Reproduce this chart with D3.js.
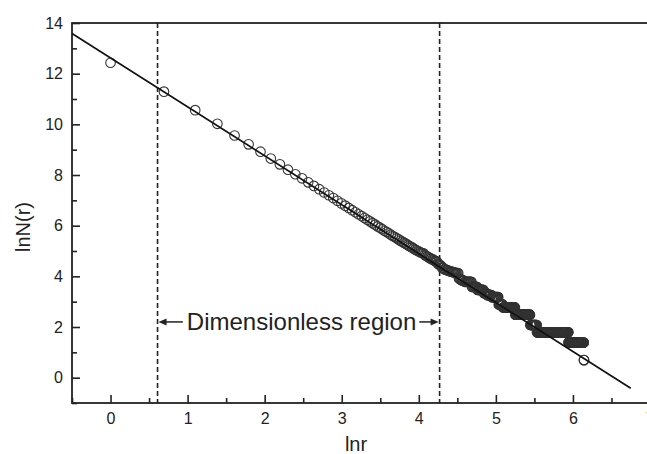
<!DOCTYPE html>
<html>
<head>
<meta charset="utf-8">
<script src="https://cdn.jsdelivr.net/npm/d3@7"></script>
<style>
  html, body { margin: 0; padding: 0; background: #fff; }
  svg { display: block; }
  text { font-family: "Liberation Sans", Arial, sans-serif; fill: #222; }
</style>
</head>
<body>
<svg id="chart" width="647" height="454"></svg>
<script>
// ---- data ----
// lnN(r) for r = 1 .. 73 (one point per integer radius)
const lnNHead = [12.43, 11.29, 10.56, 10.02, 9.56, 9.21, 8.92, 8.65, 8.42, 8.21,
  8.03, 7.87, 7.71, 7.57, 7.44, 7.31, 7.20, 7.09, 6.98, 6.88,
  6.79, 6.70, 6.61, 6.53, 6.45, 6.38, 6.30, 6.23, 6.17, 6.10,
  6.04, 5.97, 5.92, 5.86, 5.80, 5.75, 5.70, 5.64, 5.59, 5.55,
  5.50, 5.46, 5.41, 5.37, 5.33, 5.29, 5.25, 5.21, 5.17, 5.14,
  5.10, 5.06, 5.03, 5.00, 4.97, 4.94, 4.92, 4.91, 4.84, 4.81,
  4.78, 4.75, 4.72, 4.70, 4.67, 4.65, 4.62, 4.60, 4.58, 4.50,
  4.47, 4.44, 4.41];
// tail (r = 74 ..): count N(r) held constant up to the given last radius
const tailCounts   = [76, 72, 70, 68, 66, 64, 62, 50, 48, 46, 44, 36, 32, 28, 26, 24, 18, 16, 12, 8, 6, 4, 2];
const tailRunEnds  = [75, 77, 79, 81, 84, 87, 91, 93, 95, 98, 108, 116, 126, 132, 140, 153, 162, 190, 231, 252, 380, 464, 466];
// fitted line lnN = intercept + slope * lnr, drawn over this lnr range
const fitIntercept = 12.62;
const fitSlope = -1.931;
const fitRange = [-0.5, 6.75];
// scaling-region bounds (dashed lines) and label
const regionBounds = [0.61, 4.27];
const regionLabel = "Dimensionless region";
const regionLabelY = 2.2;
// axes
const xTicks = [0, 1, 2, 3, 4, 5, 6, 7];
const xMinorTicks = [-0.5, 0.5, 1.5, 2.5, 3.5, 4.5, 5.5, 6.5];
const yTicks = [0, 2, 4, 6, 8, 10, 12, 14];
const yMinorTicks = [-1, 1, 3, 5, 7, 9, 11, 13];
const xTitle = "lnr";
const yTitle = "lnN(r)";

// ---- build points ----
const points = [];
lnNHead.forEach((v, i) => points.push({ x: Math.log(i + 1), y: v }));
let rr = lnNHead.length + 1;
tailCounts.forEach((n, k) => {
  for (; rr <= tailRunEnds[k]; rr++) points.push({ x: Math.log(rr), y: Math.log(n) });
});

// ---- layout ----
const svg = d3.select("#chart");
const L = 72, R = 650, T = 23, B = 403;
const x = d3.scaleLinear().domain([-0.5, 7]).range([L, R]);
const y = d3.scaleLinear().domain([-1, 14]).range([B, T]);

svg.append("rect").attr("width", 647).attr("height", 454).attr("fill", "#fff");

// axes (ticks inward)
const gx = svg.append("g").attr("transform", `translate(0,${B})`);
gx.call(d3.axisBottom(x).tickValues(xTicks).tickSize(-8).tickSizeOuter(0).tickPadding(10).tickFormat(d3.format("d")));
const gxm = svg.append("g").attr("transform", `translate(0,${B})`);
gxm.call(d3.axisBottom(x).tickValues(xMinorTicks).tickSize(-5).tickSizeOuter(0).tickFormat(""));
const gy = svg.append("g").attr("transform", `translate(${L},0)`);
gy.call(d3.axisLeft(y).tickValues(yTicks).tickSize(-8).tickSizeOuter(0).tickPadding(9).tickFormat(d3.format("d")));
const gym = svg.append("g").attr("transform", `translate(${L},0)`);
gym.call(d3.axisLeft(y).tickValues(yMinorTicks).tickSize(-5).tickSizeOuter(0).tickFormat(""));
[gx, gxm, gy, gym].forEach(g => {
  g.select(".domain").remove();
  g.selectAll(".tick line").attr("stroke", "#222").attr("stroke-width", 1.6);
  g.selectAll(".tick text").attr("font-size", 16).attr("fill", "#222")
    .attr("font-family", "'Liberation Sans', Arial, sans-serif");
});

// frame
svg.append("rect").attr("x", L).attr("y", T).attr("width", R - L).attr("height", B - T)
  .attr("fill", "none").attr("stroke", "#222").attr("stroke-width", 1.8);

// dashed region lines
svg.selectAll("line.region").data(regionBounds).join("line").attr("class", "region")
  .attr("x1", d => x(d)).attr("x2", d => x(d)).attr("y1", T).attr("y2", B)
  .attr("stroke", "#222").attr("stroke-width", 1.6).attr("stroke-dasharray", "5,3");

// data circles
svg.append("g").selectAll("circle").data(points).join("circle")
  .attr("cx", d => x(d.x)).attr("cy", d => y(d.y)).attr("r", 4.8)
  .attr("fill", "none").attr("stroke", "#333").attr("stroke-width", 1.1);

// fitted line
svg.append("line")
  .attr("x1", x(fitRange[0])).attr("y1", y(fitIntercept + fitSlope * fitRange[0]))
  .attr("x2", x(fitRange[1])).attr("y2", y(fitIntercept + fitSlope * fitRange[1]))
  .attr("stroke", "#111").attr("stroke-width", 1.7);

// region label with arrows
const xa = x(regionBounds[0]), xb = x(regionBounds[1]), ya = y(regionLabelY);
const lbl = svg.append("text").attr("x", (xa + xb) / 2 + 3).attr("y", ya).attr("dy", "0.35em")
  .attr("text-anchor", "middle").attr("font-size", 24).attr("fill", "#222").text(regionLabel);
const tw = lbl.node().getComputedTextLength();
const t0 = (xa + xb) / 2 + 3 - tw / 2, t1 = (xa + xb) / 2 + 3 + tw / 2;
svg.append("line").attr("x1", xa + 6).attr("x2", t0 - 4).attr("y1", ya).attr("y2", ya).attr("stroke", "#222").attr("stroke-width", 1.5);
svg.append("line").attr("x1", t1 + 3).attr("x2", xb - 6).attr("y1", ya).attr("y2", ya).attr("stroke", "#222").attr("stroke-width", 1.5);
svg.append("path").attr("d", `M${xa + 1},${ya} L${xa + 9},${ya - 3.5} L${xa + 9},${ya + 3.5} Z`).attr("fill", "#222");
svg.append("path").attr("d", `M${xb - 1},${ya} L${xb - 9},${ya - 3.5} L${xb - 9},${ya + 3.5} Z`).attr("fill", "#222");

// axis titles
svg.append("text").attr("x", (L + 640) / 2).attr("y", 451).attr("text-anchor", "middle")
  .attr("font-size", 20).attr("fill", "#333").text(xTitle);
svg.append("text").attr("transform", `translate(30,${(T + B) / 2 + 14}) rotate(-90)`)
  .attr("text-anchor", "middle").attr("font-size", 20).attr("fill", "#333").text(yTitle);
</script>
</body>
</html>
